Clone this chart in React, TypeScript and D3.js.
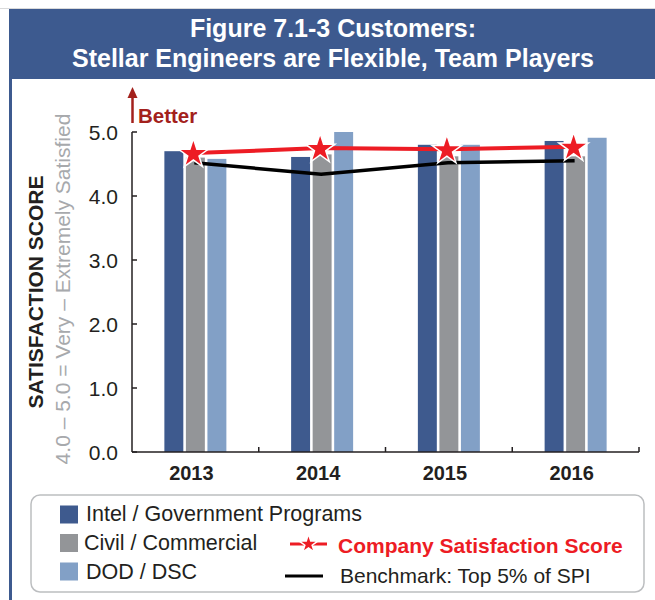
import React from "react";
import * as d3 from "d3";

const years = ["2013", "2014", "2015", "2016"];
const seriesNames = ["Intel / Government Programs", "Civil / Commercial", "DOD / DSC"];
const intelGov = [4.7, 4.61, 4.8, 4.86];
const civilCommercial = [4.6, 4.65, 4.62, 4.62];
const dodDsc = [4.58, 5.0, 4.8, 4.91];
const companyScore = [4.67, 4.75, 4.73, 4.77];
const benchmark = [4.52, 4.34, 4.52, 4.55];
const yTicks = [0, 1, 2, 3, 4, 5];
const seriesColors = ["#3e5a8e", "#939598", "#82a0c6"];

const FONT = "'Liberation Sans', Arial, Helvetica, sans-serif";

export default function App() {
  const W = 655;
  const H = 600;
  const plotLeft = 132;
  const plotRight = 639;
  const plotTop = 132;
  const plotBottom = 452;

  const x = d3.scaleBand<string>().domain(years).range([plotLeft, plotRight]).paddingInner(0).paddingOuter(0);
  const y = d3.scaleLinear().domain([0, 5]).range([plotBottom, plotTop]);
  const groupW = 62;
  const xs = d3.scaleBand<number>().domain([0, 1, 2]).range([0, groupW]).paddingInner(0.12).paddingOuter(0);
  const seriesValues = [intelGov, civilCommercial, dodDsc];

  const cx = (yr: string) => (x(yr) as number) + x.bandwidth() / 2;

  const lineGen = d3
    .line<number>()
    .x((_, i) => cx(years[i]) - 1)
    .y((d) => y(d));

  const starR = 15.5;
  const starPath = d3.symbol(d3.symbolStar, (starR * starR) / 0.8908130915292852)();
  const legendStarR = 10;
  const legendStar = d3.symbol(d3.symbolStar, (legendStarR * legendStarR) / 0.8908130915292852)();

  const boundaries = years.map((yr) => (x(yr) as number) + x.bandwidth());

  return (
    <svg
      width={W}
      height={H}
      style={{ position: "absolute", left: 0, top: 0, background: "#fff" }}
      fontFamily={FONT}
    >
      <rect x={0} y={0} width={W} height={H} fill="#fff" />
      {/* frame */}
      <line x1={0} x2={W} y1={8.5} y2={8.5} stroke="#d9dadb" strokeWidth={1} />
      <rect x={9} y={9} width={W - 9} height={70} fill="#3d5a8f" />
      <rect x={9} y={79} width={3} height={H - 79} fill="#3d5a8f" />
      <text x={333} y={37} textAnchor="middle" fill="#fff" fontWeight="bold" fontSize={25}>
        Figure 7.1-3 Customers:
      </text>
      <text x={333} y={67} textAnchor="middle" fill="#fff" fontWeight="bold" fontSize={25}>
        Stellar Engineers are Flexible, Team Players
      </text>

      {/* Better arrow */}
      <line x1={132.5} x2={132.5} y1={123} y2={95} stroke="#a3211c" strokeWidth={2.5} />
      <path d="M127.5,98 L132.5,87 L137.5,98 Z" fill="#a3211c" />
      <text x={138} y={122.5} fill="#a3211c" fontWeight="bold" fontSize={20.5}>
        Better
      </text>

      {/* axis titles */}
      <text
        transform={`translate(42.5,${(plotTop + plotBottom) / 2}) rotate(-90)`}
        textAnchor="middle"
        fontWeight="bold"
        fontSize={21}
        fill="#231f20"
      >
        SATISFACTION SCORE
      </text>
      <text
        transform={`translate(70,289) rotate(-90)`}
        textAnchor="middle"
        fontSize={21}
        fill="#a7a9ac"
      >
        4.0 – 5.0 = Very – Extremely Satisfied
      </text>

      {/* bars */}
      {years.map((yr, i) => (
        <g key={yr}>
          {seriesValues.map((vals, s) => (
            <rect
              key={s}
              x={cx(yr) - groupW / 2 + (xs(s) as number)}
              y={y(vals[i])}
              width={xs.bandwidth()}
              height={plotBottom - y(vals[i])}
              fill={seriesColors[s]}
            />
          ))}
        </g>
      ))}

      {/* y axis */}
      <line x1={plotLeft} x2={plotLeft} y1={plotTop} y2={plotBottom} stroke="#231f20" strokeWidth={1.5} />
      {yTicks.map((t) => (
        <g key={t}>
          <line x1={plotLeft} x2={plotLeft + 5} y1={y(t)} y2={y(t)} stroke="#231f20" strokeWidth={1.5} />
          <text x={118} y={y(t)} dy="0.36em" textAnchor="end" fontSize={21} fill="#231f20">
            {t.toFixed(1)}
          </text>
        </g>
      ))}

      {/* x axis */}
      <line x1={plotLeft} x2={plotRight} y1={plotBottom} y2={plotBottom} stroke="#231f20" strokeWidth={1.5} />
      {boundaries.map((b, i) => (
        <line key={i} x1={b} x2={b} y1={plotBottom} y2={plotBottom - 5} stroke="#231f20" strokeWidth={1.5} />
      ))}
      {years.map((yr) => (
        <text key={yr} x={cx(yr) - 4} y={480} textAnchor="middle" fontWeight="bold" fontSize={20} fill="#231f20">
          {yr}
        </text>
      ))}

      {/* benchmark line */}
      <path d={lineGen(benchmark) as string} fill="none" stroke="#000" strokeWidth={3.5} />
      {/* company line */}
      <path d={lineGen(companyScore) as string} fill="none" stroke="#ed1c24" strokeWidth={4} />
      {companyScore.map((v, i) => (
        <path
          key={i}
          d={starPath as string}
          transform={`translate(${cx(years[i]) - 2},${y(v) + 1})`}
          fill="#ed1c24"
          stroke="#fff"
          strokeWidth={1.5}
        />
      ))}

      {/* legend */}
      <rect x={31} y={495} width={613} height={97} rx={9} fill="#fff" stroke="#bcbec0" strokeWidth={1.5} />
      {seriesNames.map((name, s) => (
        <g key={name}>
          <rect x={60} y={505.5 + s * 28.5} width={18} height={18} fill={seriesColors[s]} />
          <text x={s === 1 ? 84 : 86} y={521 + s * 29} fontSize={21.5} fill="#231f20">
            {name}
          </text>
        </g>
      ))}
      <line x1={290} x2={327} y1={544} y2={544} stroke="#ed1c24" strokeWidth={3} />
      <path d={legendStar as string} transform="translate(308.5,544)" fill="#ed1c24" stroke="#fff" strokeWidth={1.5} />
      <text x={338} y={553} fontWeight="bold" fontSize={21} fill="#ed1c24">
        Company Satisfaction Score
      </text>
      <line x1={285} x2={323} y1={576} y2={576} stroke="#000" strokeWidth={3} />
      <text x={340} y={583} fontSize={21} fill="#231f20">
        Benchmark: Top 5% of SPI
      </text>
    </svg>
  );
}
